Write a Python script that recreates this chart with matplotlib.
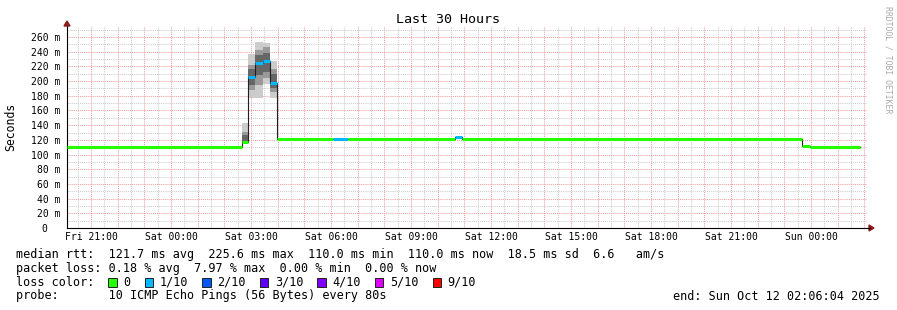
import matplotlib
matplotlib.use("Agg")
import matplotlib.pyplot as plt
from matplotlib.patches import Polygon, Rectangle
import numpy as np

# ---- data (hours counted from Fri 00:00) ----
seg_start = [20.10, 26.65, 26.90, 27.16, 27.44, 27.71, 27.98, 30.09, 30.65,
             34.64, 34.92, 47.67, 47.96]
data_end = 49.84
median_ms = [110.0, 117.5, 205.0, 224.5, 227.0, 197.0, 121.5, 121.5, 121.5,
             124.0, 121.5, 112.0, 110.0]
lost_pings = [0, 0, 1, 1, 1, 1, 0, 1, 0, 1, 0, 0, 0]   # out of 10

# smoke (ping spread) for the steps where it shows
smoke_idx = [1, 2, 3, 4, 5]
outer_lo = [117.0, 176.5, 176.5, 195.6, 176.5]
outer_hi = [143.0, 237.0, 252.8, 251.4, 228.0]
mid_lo = [117.0, 188.0, 194.7, 204.0, 185.0]
mid_hi = [131.0, 222.0, 242.0, 247.0, 217.0]
inner_lo = [117.0, 195.0, 208.0, 213.0, 190.0]
inner_hi = [126.0, 217.0, 235.0, 238.0, 210.0]

loss_labels = ["0", "1/10", "2/10", "3/10", "4/10", "5/10", "9/10"]
loss_keys = [0, 1, 2, 3, 4, 5, 9]
loss_colors = ["#26ff00", "#00b8ff", "#0059ff", "#5e00ff", "#7e00ff", "#dd00ff", "#ff0000"]

x_start, x_end = 20.1011, 50.1011
x_label_hours = [21, 24, 27, 30, 33, 36, 39, 42, 45, 48]
x_label_text = ["Fri 21:00", "Sat 00:00", "Sat 03:00", "Sat 06:00", "Sat 09:00",
                "Sat 12:00", "Sat 15:00", "Sat 18:00", "Sat 21:00", "Sun 00:00"]
y_ticks = list(range(0, 261, 20))

rtt_line = "median rtt:  121.7 ms avg  225.6 ms max  110.0 ms min  110.0 ms now  18.5 ms sd  6.6   am/s"
loss_line = "packet loss: 0.18 % avg  7.97 % max  0.00 % min  0.00 % now"
probe_line = "probe:       10 ICMP Echo Pings (56 Bytes) every 80s"
end_line = "end: Sun Oct 12 02:06:04 2025"

# ---- figure ----
W, H = 897, 310
MONO = "DejaVu Sans Mono"
plt.rcParams['font.family'] = MONO

def fx(px):
    return px / W

def fy(py):
    return 1 - py / H

fig = plt.figure(figsize=(W / 100, H / 100), dpi=100)
fig.patch.set_facecolor("white")
ax = fig.add_axes([fx(67), fy(228), fx(867) - fx(67), fy(26) - fy(228)])
ax.set_xlim(x_start, x_end)
ax.set_ylim(0, 275)

for s in ["top", "right"]:
    ax.spines[s].set_visible(False)
for s in ["left", "bottom"]:
    ax.spines[s].set_linewidth(0.8)
    ax.spines[s].set_color("#000000")

# grid
grid_red = "#eda0a0"
grid_grey = "#cccccc"
ax.set_xticks(np.arange(21, 51, 1.0))
ax.set_xticklabels([x_label_text[x_label_hours.index(h)] if h in x_label_hours else ""
                    for h in range(21, 51)])
ax.set_xticks(np.arange(20.5, 50.1, 1.0), minor=True)
ax.set_yticks(y_ticks)
ax.set_yticklabels([f"{v} m" if v else "0  " for v in y_ticks])
ax.set_yticks(np.arange(10, 275, 20), minor=True)
ax.grid(True, which="major", color=grid_red, linestyle=(0, (1, 1)), linewidth=0.75)
ax.grid(True, which="minor", color=grid_grey, linestyle=(0, (1, 1)), linewidth=0.75)
ax.set_axisbelow(True)
ax.tick_params(which="both", length=0)
ax.tick_params(axis="x", pad=3.2, labelsize=7.05)
ax.tick_params(axis="y", pad=5, labelsize=7.05)

# smoke
seg_end = seg_start[1:] + [data_end]
for k, i in enumerate(smoke_idx):
    xs = [seg_start[i], seg_end[i]]
    ax.fill_between(xs, outer_lo[k], outer_hi[k], color="#cccccc", lw=0, zorder=2)
    ax.fill_between(xs, mid_lo[k], mid_hi[k], color="#999999", lw=0, zorder=2)
    ax.fill_between(xs, inner_lo[k], inner_hi[k], color="#666666", lw=0, zorder=2)

# median
ax.step(seg_start + [data_end], median_ms + [median_ms[-1]], where="post",
        color="#202020", lw=0.8, zorder=3)
seg_colors = [loss_colors[loss_keys.index(l)] for l in lost_pings]
ax.hlines(median_ms, seg_start, seg_end, colors=seg_colors, lw=2.2,
          capstyle="butt", zorder=4)

# axis arrows
arrow_col = "#8b1c1c"
fig.add_artist(Polygon([[fx(869), fy(225)], [fx(874), fy(228)], [fx(869), fy(231)]],
                       closed=True, color=arrow_col, transform=fig.transFigure))
fig.add_artist(plt.Line2D([fx(867), fx(870)], [fy(228), fy(228)], color="black",
                          lw=0.8, transform=fig.transFigure))
fig.add_artist(Polygon([[fx(64), fy(26)], [fx(67), fy(21)], [fx(70), fy(26)]],
                       closed=True, color=arrow_col, transform=fig.transFigure))

# title, axis label, watermark
fig.text(fx(448), fy(19.5), "Last 30 Hours", ha="center", va="center", fontsize=9.6)
fig.text(fx(11), fy(127), "Seconds", rotation=90, ha="center", va="center", fontsize=8.3)
fig.text(fx(887.5), fy(60), "RRDTOOL / TOBI OETIKER", rotation=270, ha="center",
         va="center", fontsize=5.9, color="#aaaaaa")

# legend block
fs = 8.5
fig.text(fx(16), fy(254.3), rtt_line, ha="left", va="center", fontsize=fs)
fig.text(fx(16), fy(268.3), loss_line, ha="left", va="center", fontsize=fs)
fig.text(fx(16), fy(282.3), "loss color:", ha="left", va="center", fontsize=fs)
fig.text(fx(16), fy(296), probe_line, ha="left", va="center", fontsize=fs)
fig.text(fx(880), fy(296), end_line, ha="right", va="center", fontsize=fs)

char_w = 7.1
bx = 16 + 13 * char_w
for lab, col in zip(loss_labels, loss_colors):
    fig.add_artist(Rectangle((fx(bx), fy(286.7)), fx(8.4), 8.4 / H, facecolor=col,
                             edgecolor="#202020", lw=0.7, transform=fig.transFigure))
    tx = bx + 15
    fig.text(fx(tx), fy(282.3), lab, ha="left", va="center", fontsize=fs)
    bx = tx + (len(lab) + 2) * char_w

fig.savefig("out.png", dpi=100)
